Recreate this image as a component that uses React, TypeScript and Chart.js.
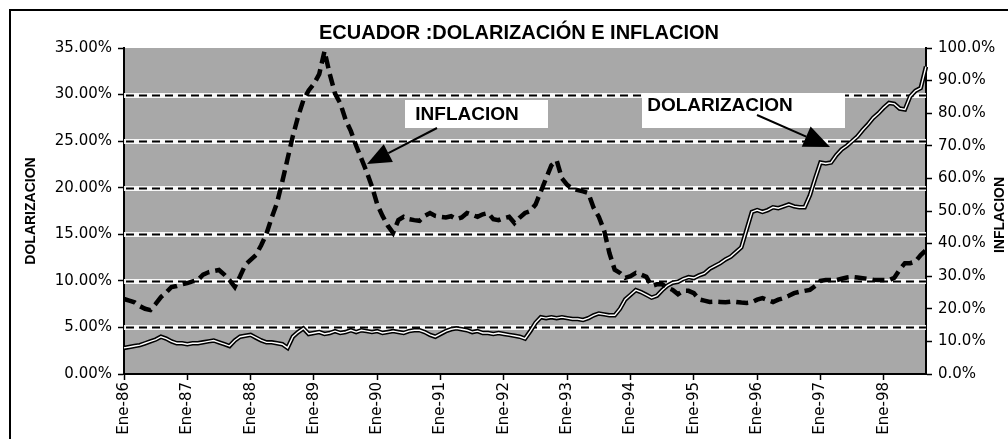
import React, { useEffect, useRef } from 'react';
import { Chart, registerables } from 'chart.js';

Chart.register(...registerables);

// ---------- DATA ----------
const MONTHS = ['Ene', 'Feb', 'Mar', 'Abr', 'May', 'Jun', 'Jul', 'Ago', 'Sep', 'Oct', 'Nov', 'Dic'];
const YEARS = ['86', '87', '88', '89', '90', '91', '92', '93', '94', '95', '96', '97', '98'];

// Dolarización (%), left axis, monthly Ene-86 .. Sep-98
const DOLARIZACION = [
  2.8, 2.9, 3.0, 3.1, 3.3, 3.5, 3.7, 4.0, 3.8, 3.5,
  3.3, 3.3, 3.2, 3.3, 3.3, 3.4, 3.5, 3.6, 3.4, 3.2,
  3.0, 3.6, 4.0, 4.1, 4.2, 3.9, 3.6, 3.4, 3.4, 3.3,
  3.2, 2.8, 4.0, 4.5, 4.9, 4.3, 4.4, 4.5, 4.3, 4.4,
  4.6, 4.4, 4.5, 4.7, 4.5, 4.7, 4.6, 4.5, 4.6, 4.4,
  4.5, 4.6, 4.5, 4.4, 4.6, 4.7, 4.7, 4.5, 4.2, 4.0,
  4.3, 4.6, 4.8, 4.9, 4.8, 4.7, 4.5, 4.6, 4.4, 4.4,
  4.3, 4.4, 4.3, 4.2, 4.1, 4.0, 3.8, 4.6, 5.5, 6.1,
  6.0, 6.1, 6.0, 6.1, 6.0, 5.9, 5.9, 5.8, 6.0, 6.3,
  6.5, 6.4, 6.3, 6.3, 7.0, 8.0, 8.5, 9.0, 8.8, 8.5,
  8.2, 8.4, 9.0, 9.5, 9.8, 9.9, 10.2, 10.4, 10.3, 10.6,
  10.8, 11.3, 11.6, 11.9, 12.3, 12.6, 13.1, 13.6, 15.5, 17.4,
  17.6, 17.4, 17.6, 17.9, 17.8, 18.0, 18.2, 18.0, 17.9, 17.9,
  19.2, 21.0, 22.7, 22.6, 22.7, 23.5, 24.1, 24.5, 25.0, 25.5,
  26.2, 26.8, 27.5, 28.0, 28.6, 29.1, 29.0, 28.5, 28.4, 29.8,
  30.4, 30.7, 33.0,
];

// Inflación (%), right axis
const INFLACION = [
  23.0, 22.5, 22.0, 20.8, 20.0, 19.6, 21.5, 23.6, 25.0, 26.7,
  27.0, 27.5, 27.9, 28.4, 28.8, 30.5, 31.2, 31.6, 31.9, 30.5,
  28.8, 26.7, 30.0, 33.5, 35.0, 36.5, 39.5, 43.0, 48.0, 52.5,
  59.0, 66.0, 73.0, 79.0, 84.0, 87.0, 89.0, 92.0, 99.0, 92.0,
  86.0, 83.0, 78.0, 74.5, 70.0, 66.0, 62.0, 57.5, 52.0, 48.5,
  45.5, 43.3, 47.2, 48.2, 47.5, 47.2, 47.0, 48.5, 49.4, 48.5,
  48.2, 48.0, 48.4, 47.5, 48.0, 49.4, 48.8, 48.2, 49.0, 49.4,
  47.5, 47.2, 47.8, 48.2, 46.3, 48.0, 49.4, 50.0, 52.0, 56.0,
  60.0, 64.0, 65.5, 60.0, 58.0, 56.8, 56.4, 56.0, 55.5, 51.0,
  48.2, 44.0, 37.1, 32.0, 31.0, 29.5, 30.0, 31.0, 30.5, 29.8,
  27.0, 27.5, 27.5, 26.5, 25.8, 24.5, 25.5, 25.5, 24.8, 22.9,
  22.5, 22.1, 22.2, 22.1, 22.0, 22.2, 22.1, 21.9, 21.8, 22.0,
  22.8, 23.3, 22.7, 22.1, 22.8, 23.3, 24.0, 24.8, 25.2, 25.5,
  25.8, 27.0, 28.6, 28.8, 28.8, 28.8, 29.2, 29.6, 29.8, 29.6,
  29.4, 29.2, 28.9, 28.8, 28.8, 28.8, 29.5, 32.0, 34.0, 34.0,
  34.5, 36.5, 38.0,
];

const LEFT_MIN = 0;
const LEFT_MAX = 35;
const LEFT_STEP = 5;
const RIGHT_MIN = 0;
const RIGHT_MAX = 100;
const RIGHT_STEP = 10;

const TITLE = 'ECUADOR :DOLARIZACIÓN E INFLACION';
const LEFT_AXIS_TITLE = 'DOLARIZACION';
const RIGHT_AXIS_TITLE = 'INFLACION';
const NOTE_INFL = 'INFLACION';
const NOTE_DOL = 'DOLARIZACION';

const ALL_LABELS: string[] = [];
YEARS.forEach((y) => MONTHS.forEach((m) => ALL_LABELS.push(`${m}-${y}`)));
const CATEGORIES = ALL_LABELS.slice(0, DOLARIZACION.length);

// ---------- STYLE / LAYOUT ----------
const W = 1008;
const H = 439;
const PLOT_BG = '#a8a8a8';
const TICK_FONT = { family: '"DejaVu Sans", sans-serif', size: 15 };
const X_FONT = { family: '"DejaVu Sans", sans-serif', size: 15 };

function drawArrow(ctx: CanvasRenderingContext2D, x1: number, y1: number, x2: number, y2: number, headLen: number, headHalf: number) {
  const ang = Math.atan2(y2 - y1, x2 - x1);
  const bx = x2 - headLen * Math.cos(ang);
  const by = y2 - headLen * Math.sin(ang);
  ctx.save();
  ctx.strokeStyle = '#000';
  ctx.fillStyle = '#000';
  ctx.lineWidth = 2;
  ctx.beginPath();
  ctx.moveTo(x1, y1);
  ctx.lineTo(bx, by);
  ctx.stroke();
  ctx.beginPath();
  ctx.moveTo(x2, y2);
  ctx.lineTo(bx + headHalf * Math.sin(ang), by - headHalf * Math.cos(ang));
  ctx.lineTo(bx - headHalf * Math.sin(ang), by + headHalf * Math.cos(ang));
  ctx.closePath();
  ctx.fill();
  ctx.restore();
}

const decorPlugin = {
  id: 'decor',
  beforeDraw(chart: any) {
    const { ctx, chartArea: a } = chart;
    ctx.save();
    ctx.fillStyle = '#ffffff';
    ctx.fillRect(0, 0, chart.width, chart.height);
    ctx.fillStyle = PLOT_BG;
    ctx.fillRect(a.left, a.top, a.right - a.left, a.bottom - a.top);
    ctx.restore();
  },
  beforeDatasetsDraw(chart: any) {
    const { ctx, chartArea: a } = chart;
    const yL = chart.scales.yL;
    ctx.save();
    yL.ticks.forEach((t: any) => {
      if (t.value <= LEFT_MIN || t.value >= LEFT_MAX) return;
      const y = Math.round(yL.getPixelForValue(t.value)) + 0.5;
      ctx.strokeStyle = 'rgba(255,255,255,0.9)';
      ctx.lineWidth = 5;
      ctx.setLineDash([]);
      ctx.beginPath();
      ctx.moveTo(a.left, y);
      ctx.lineTo(a.right, y);
      ctx.stroke();
      ctx.strokeStyle = '#000';
      ctx.lineWidth = 2;
      ctx.setLineDash([8, 5]);
      ctx.beginPath();
      ctx.moveTo(a.left + 2, y);
      ctx.lineTo(a.right, y);
      ctx.stroke();
    });
    ctx.restore();
  },
  afterDraw(chart: any) {
    const { ctx, chartArea: a } = chart;
    ctx.save();
    // outer frame (top & left)
    ctx.strokeStyle = '#000';
    ctx.lineWidth = 2;
    ctx.beginPath();
    ctx.moveTo(10, H);
    ctx.lineTo(10, 10);
    ctx.lineTo(W, 10);
    ctx.stroke();

    // title
    ctx.fillStyle = '#000';
    ctx.textAlign = 'center';
    ctx.textBaseline = 'middle';
    ctx.font = 'bold 20px "Liberation Sans", Arial, sans-serif';
    ctx.fillText(TITLE, 519, 33);

    // axis titles (both read bottom-to-top)
    const cy = (a.top + a.bottom) / 2;
    ctx.font = 'bold 14px "Liberation Sans", Arial, sans-serif';
    ctx.save();
    ctx.translate(31, cy);
    ctx.rotate(-Math.PI / 2);
    ctx.fillText(LEFT_AXIS_TITLE, 0, 0);
    ctx.restore();
    ctx.save();
    ctx.translate(1000, cy + 4);
    ctx.rotate(-Math.PI / 2);
    ctx.fillText(RIGHT_AXIS_TITLE, 0, 0);
    ctx.restore();

    // annotation boxes
    ctx.fillStyle = '#ffffff';
    ctx.fillRect(405, 100, 143, 28);
    ctx.fillRect(642, 93, 203, 35);
    ctx.fillStyle = '#000';
    ctx.font = 'bold 19px "Liberation Sans", Arial, sans-serif';
    ctx.fillText(NOTE_INFL, 467, 115);
    ctx.fillText(NOTE_DOL, 720, 106);

    // arrows
    drawArrow(ctx, 437, 128, 367, 164, 24, 10);
    drawArrow(ctx, 757, 115, 830, 147, 26, 11);
    ctx.restore();
  },
};

export default function App() {
  const ref = useRef<HTMLCanvasElement | null>(null);

  useEffect(() => {
    if (!ref.current) return;
    const chart = new Chart(ref.current, {
      type: 'line',
      data: {
        labels: CATEGORIES,
        datasets: [
          {
            label: 'Inflación',
            data: INFLACION,
            yAxisID: 'yR',
            borderColor: '#000',
            borderWidth: 4.5,
            borderDash: [12, 6],
            pointRadius: 0,
            tension: 0,
            order: 0,
          },
          {
            label: 'Dolarización (centro)',
            data: DOLARIZACION,
            yAxisID: 'yL',
            borderColor: '#ffffff',
            borderWidth: 1.4,
            pointRadius: 0,
            tension: 0,
            order: 1,
          },
          {
            label: 'Dolarización',
            data: DOLARIZACION,
            yAxisID: 'yL',
            borderColor: '#000',
            borderWidth: 4.5,
            pointRadius: 0,
            tension: 0,
            order: 2,
          },
        ],
      },
      options: {
        responsive: false,
        animation: false,
        events: [],
        layout: { padding: { top: 48, left: 0, right: 0, bottom: 0 } },
        plugins: {
          legend: { display: false },
          tooltip: { enabled: false },
          title: { display: false },
        },
        scales: {
          x: {
            type: 'category',
            position: 'bottom',
            offset: false,
            afterFit: (s: any) => {
              s.height = 65;
            },
            border: { display: true, color: '#000', width: 2 },
            grid: {
              drawOnChartArea: false,
              drawTicks: true,
              tickLength: 6,
              tickWidth: 1.5,
              tickColor: (c: any) => (c.index % 12 === 0 ? '#000' : 'rgba(0,0,0,0)'),
            },
            ticks: {
              autoSkip: false,
              minRotation: 90,
              maxRotation: 90,
              padding: 2,
              color: '#000',
              font: X_FONT,
              callback: function (this: any, v: any, i: number) {
                return i % 12 === 0 ? this.getLabelForValue(v) : '';
              },
            },
          },
          yL: {
            type: 'linear',
            position: 'left',
            min: LEFT_MIN,
            max: LEFT_MAX,
            afterFit: (s: any) => {
              s.width = 124;
            },
            border: { display: true, color: '#000', width: 2 },
            grid: { drawOnChartArea: false, tickLength: 6, tickWidth: 1.5, tickColor: '#000' },
            ticks: {
              stepSize: LEFT_STEP,
              padding: 6,
              color: '#000',
              font: TICK_FONT,
              callback: (v: any) => Number(v).toFixed(2) + '%',
            },
          },
          yR: {
            type: 'linear',
            position: 'right',
            min: RIGHT_MIN,
            max: RIGHT_MAX,
            afterFit: (s: any) => {
              s.width = W - 926;
            },
            border: { display: true, color: '#000', width: 2 },
            grid: { drawOnChartArea: false, tickLength: 6, tickWidth: 1.5, tickColor: '#000' },
            ticks: {
              stepSize: RIGHT_STEP,
              padding: 6,
              color: '#000',
              font: TICK_FONT,
              callback: (v: any) => Number(v).toFixed(1) + '%',
            },
          },
        },
      },
      plugins: [decorPlugin],
    } as any);
    return () => chart.destroy();
  }, []);

  return (
    <div style={{ position: 'absolute', left: 0, top: 0, width: W, height: H }}>
      <canvas ref={ref} width={W} height={H} style={{ display: 'block' }} />
    </div>
  );
}
